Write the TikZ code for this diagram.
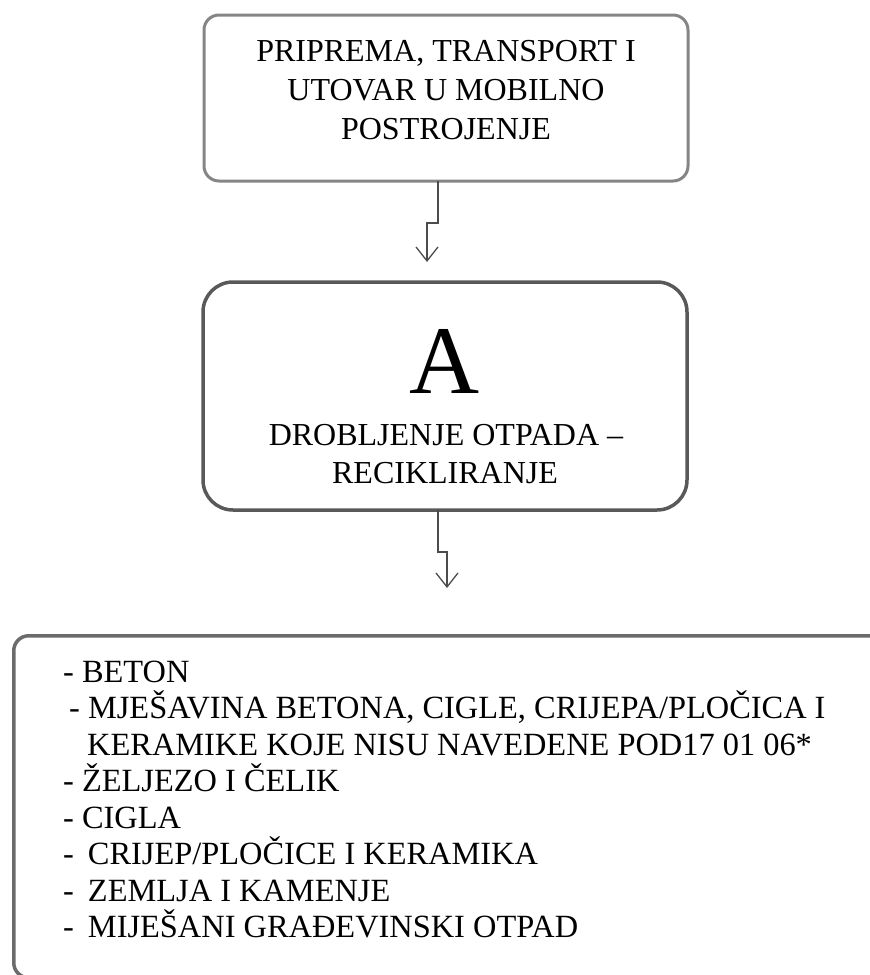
\documentclass[tikz,border=0pt]{standalone}
\usepackage{fontspec}
\setmainfont{Liberation Serif}
\usetikzlibrary{arrows.meta}
\begin{document}
\begin{tikzpicture}[x=1pt,y=-1pt,
  boxA/.style={draw=black!48,line width=3pt,rounded corners=15pt,inner sep=0pt},
  boxB/.style={draw=black!65,line width=3.5pt,rounded corners=30pt,inner sep=0pt},
  boxC/.style={draw=black!58,line width=3.5pt,rounded corners=15pt,inner sep=0pt},
  txt/.style={inner sep=0pt,font=\fontsize{32}{39}\selectfont},
  ltxt/.style={inner sep=0pt,anchor=base west,font=\fontsize{32.4}{38}\selectfont},
  conn/.style={draw=black!70,line width=1.3pt,-{Straight Barb[length=14pt,width=22pt,line width=1.3pt]}}]
\useasboundingbox (0,0) rectangle (870,975);
\begin{scope}
\clip (0,0) rectangle (870,975);
% boxes
\node[boxA,minimum width=484pt,minimum height=166pt] (b1) at (446,98) {};
\node[boxB,minimum width=484pt,minimum height=228pt] (b2) at (445,396) {};
\node[boxC,minimum width=900pt,minimum height=342pt,anchor=north west] (b3) at (12,634) {};
\end{scope}
% box 1 text
\node[txt,anchor=base] (t1a) at (446,61) {PRIPREMA, TRANSPORT I};
\node[txt,anchor=base] (t1b) at (446,100) {UTOVAR U MOBILNO};
\node[txt,anchor=base] (t1c) at (446,139) {POSTROJENJE};
% box 2 text
\node[inner sep=0pt,anchor=base,font=\fontsize{97}{97}\selectfont] (tA) at (445,393) {A};
\node[txt,anchor=base] (t2a) at (446,445) {DROBLJENJE OTPADA –};
\node[txt,anchor=base] (t2b) at (445,483) {RECIKLIRANJE};
% list
\node[ltxt] (l1) at (63,682) {- BETON};
\node[ltxt] (l2) at (69,718.5) {- MJEŠAVINA BETONA, CIGLE, CRIJEPA/PLOČICA I};
\node[ltxt] (l3) at (87,755) {KERAMIKE KOJE NISU NAVEDENE POD17 01 06*};
\node[ltxt] (l4) at (63,791.5) {- ŽELJEZO I ČELIK};
\node[ltxt] (l5) at (63,828) {- CIGLA};
\node[ltxt] (l6) at (63,864.5) {-\hspace{14pt}CRIJEP/PLOČICE I KERAMIKA};
\node[ltxt] (l7) at (63,901) {-\hspace{14pt}ZEMLJA I KAMENJE};
\node[ltxt] (l8) at (63,937.5) {-\hspace{14pt}MIJEŠANI GRAĐEVINSKI OTPAD};
% connectors
\coordinate (s1) at (438,181);
\coordinate (e1) at (427,262);
\draw[conn] (s1) -- (438,223) -- (427,223) -- (e1);
\coordinate (s2) at (438,510);
\coordinate (e2) at (447,588);
\draw[conn] (s2) -- (438,552) -- (447,552) -- (e2);
\end{tikzpicture}
\end{document}
